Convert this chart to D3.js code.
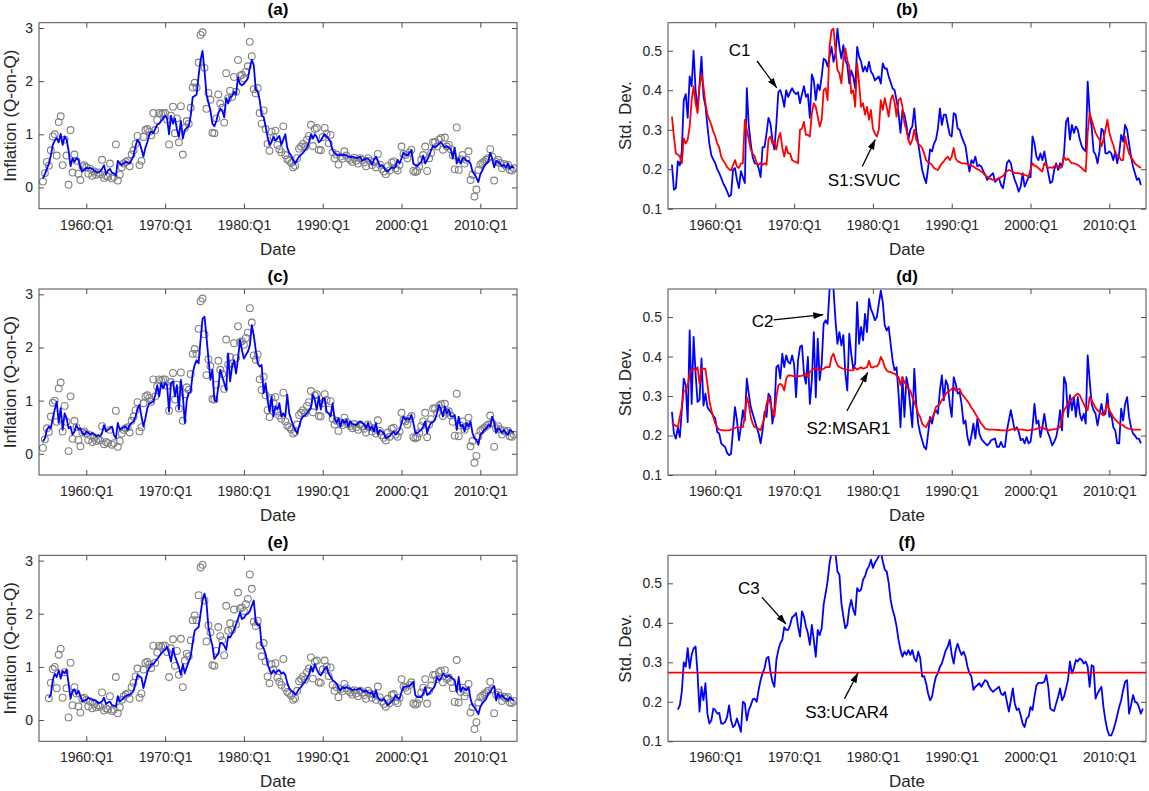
<!DOCTYPE html>
<html>
<head>
<meta charset="utf-8">
<script src="https://cdn.jsdelivr.net/npm/d3@7"></script>
<style>
  body { margin: 0; background: #fff; }
  text { font-family: "Liberation Sans", Arial, Helvetica, sans-serif; }
</style>
</head>
<body>
<svg id="chart" width="1149" height="791"></svg>
<script>
// quarterly data, first observation is 1954:Q3
const firstQuarter = 1954.5
const lagStart = 3 // UCAR4 panels start at 1955:Q2
const xDomain = [1954, 2014.65]
const tickYears = [1960, 1970, 1980, 1990, 2000, 2010]
const tickLabels = ['1960:Q1', '1970:Q1', '1980:Q1', '1990:Q1', '2000:Q1', '2010:Q1']
const inflTicks = [0, 1, 2, 3]
const sdTicks = [0.1, 0.2, 0.3, 0.4, 0.5]

// observed inflation (Q-on-Q)
const inflation = [
  0.11, 0.27, 0.48, 0.41, 0.70, 0.96, 1.00, 0.60, 1.23, 1.34,
  0.42, 0.90, 0.60, 0.05, 1.08, 0.28, 0.62, 0.50, 0.26, 0.14,
  0.40, 0.42, 0.38, 0.26, 0.35, 0.22, 0.30, 0.24, 0.28, 0.25,
  0.52, 0.18, 0.22, 0.20, 0.45, 0.17, 0.20, 0.81, 0.13, 0.24,
  0.38, 0.45, 0.48, 0.50, 0.40, 0.62, 0.70, 0.82, 0.97, 0.42,
  0.50, 0.95, 1.08, 1.10, 1.05, 0.98, 1.40, 1.08, 1.27, 1.40,
  1.38, 1.40, 1.40, 1.28, 0.81, 1.35, 1.52, 1.02, 1.30, 0.85,
  1.53, 0.62, 1.12, 1.25, 1.20, 1.50, 1.88, 1.97, 1.88, 2.35,
  2.87, 2.92, 2.25, 1.48, 1.78, 1.65, 1.03, 1.02, 1.30, 1.75,
  1.58, 1.50, 1.22, 2.15, 1.68, 1.82, 1.70, 2.08, 1.80, 2.40,
  2.10, 2.12, 2.05, 2.18, 2.28, 2.74, 2.47, 1.85, 1.77, 1.87,
  1.40, 1.20, 1.45, 1.10, 0.82, 0.69, 1.05, 0.95, 1.07, 0.80,
  0.72, 0.66, 1.15, 0.61, 0.53, 0.50, 0.46, 0.38, 0.41, 0.55,
  0.73, 0.77, 0.82, 0.76, 0.90, 0.97, 1.18, 0.78, 1.10, 1.12,
  0.71, 0.70, 0.95, 1.12, 1.01, 0.83, 0.99, 0.66, 0.55, 0.62,
  0.43, 0.58, 0.54, 0.68, 0.60, 0.55, 0.52, 0.48, 0.56, 0.50,
  0.45, 0.55, 0.52, 0.47, 0.40, 0.55, 0.50, 0.42, 0.48, 0.38,
  0.63, 0.43, 0.35, 0.30, 0.25, 0.40, 0.32, 0.47, 0.49, 0.36,
  0.32, 0.42, 0.77, 0.63, 0.61, 0.55, 0.66, 0.71, 0.31, 0.29,
  0.31, 0.39, 0.52, 0.61, 0.77, 0.31, 0.55, 0.65, 0.85, 0.85,
  0.77, 0.90, 0.93, 0.71, 0.94, 0.77, 0.80, 0.72, 0.60, 0.34,
  1.13, 0.33, 0.53, 0.61, 0.45, 0.52, 0.68, 0.14, 0.24, -0.17,
  -0.04, 0.33, 0.43, 0.46, 0.49, 0.52, 0.55, 0.72, 0.58, 0.13,
  0.48, 0.52, 0.46, 0.36, 0.44, 0.41, 0.43, 0.33, 0.32, 0.36
]

// trend estimates, panels (a), (c), (e)
const trendSVUC = [
  0.17, 0.25, 0.35, 0.45, 0.60, 0.80, 0.88, 0.93, 0.85, 1.01,
  0.80, 0.96, 0.90, 0.70, 0.40, 0.55, 0.48, 0.55, 0.52, 0.38,
  0.30, 0.33, 0.37, 0.36, 0.37, 0.35, 0.32, 0.29, 0.28, 0.30,
  0.35, 0.42, 0.25, 0.32, 0.35, 0.28, 0.26, 0.22, 0.50, 0.45,
  0.42, 0.46, 0.48, 0.47, 0.45, 0.52, 0.60, 0.78, 0.90, 0.85,
  0.72, 0.58, 0.75, 0.85, 1.00, 1.05, 1.02, 1.10, 1.18, 1.20,
  1.25, 1.30, 1.35, 1.30, 1.00, 1.35, 1.20, 1.30, 1.10, 0.95,
  1.25, 0.92, 1.08, 1.12, 1.15, 1.35, 1.70, 1.72, 1.75, 2.10,
  2.40, 2.57, 2.20, 1.75, 1.60, 1.45, 1.20, 1.15, 1.25, 1.40,
  1.48, 1.45, 1.32, 1.68, 1.58, 1.70, 1.72, 1.80, 1.75, 2.07,
  1.95, 1.92, 1.95, 2.00, 2.05, 2.25, 2.40, 2.30, 1.85, 1.80,
  1.65, 1.35, 1.33, 1.15, 0.95, 0.80, 0.85, 0.96, 0.88, 0.92,
  0.97, 0.80, 0.90, 1.00, 0.75, 0.65, 0.60, 0.52, 0.45, 0.52,
  0.58, 0.62, 0.65, 0.70, 0.75, 0.85, 1.00, 0.92, 1.00, 0.95,
  0.85, 0.88, 0.95, 1.00, 0.95, 0.92, 0.85, 0.70, 0.65, 0.62,
  0.60, 0.62, 0.60, 0.62, 0.60, 0.58, 0.57, 0.58, 0.57, 0.55,
  0.56, 0.58, 0.50, 0.52, 0.55, 0.54, 0.50, 0.43, 0.52, 0.58,
  0.50, 0.40, 0.42, 0.38, 0.32, 0.30, 0.34, 0.38, 0.36, 0.40,
  0.52, 0.45, 0.55, 0.65, 0.62, 0.60, 0.65, 0.70, 0.45, 0.42,
  0.40, 0.44, 0.48, 0.60, 0.45, 0.52, 0.60, 0.70, 0.78, 0.75,
  0.78, 0.82, 0.85, 0.80, 0.75, 0.78, 0.75, 0.72, 0.55, 0.75,
  0.45, 0.55, 0.45, 0.55, 0.55, 0.50, 0.50, 0.45, 0.30, 0.25,
  0.18, 0.10, 0.25, 0.32, 0.40, 0.45, 0.48, 0.65, 0.55, 0.38,
  0.50, 0.48, 0.45, 0.40, 0.42, 0.38, 0.45, 0.35, 0.40, 0.37
]

const trendMSAR = [
  0.23, 0.29, 0.45, 0.51, 0.48, 0.67, 0.83, 0.98, 0.58, 0.86,
  0.45, 0.76, 0.67, 0.48, 0.51, 0.36, 0.42, 0.54, 0.46, 0.48,
  0.39, 0.36, 0.42, 0.39, 0.36, 0.39, 0.37, 0.33, 0.35, 0.33,
  0.39, 0.54, 0.42, 0.45, 0.48, 0.51, 0.36, 0.29, 0.58, 0.45,
  0.48, 0.50, 0.51, 0.45, 0.54, 0.58, 0.61, 0.70, 0.85, 0.92,
  0.70, 0.51, 0.67, 0.86, 0.95, 0.96, 0.98, 1.10, 1.29, 1.08,
  1.33, 1.23, 1.33, 1.29, 0.79, 1.33, 1.36, 1.08, 1.29, 0.83,
  1.39, 1.11, 0.58, 1.01, 1.14, 1.17, 1.51, 1.67, 1.76, 1.70,
  2.14, 2.54, 2.58, 2.20, 1.79, 1.39, 1.58, 1.01, 0.98, 1.26,
  1.58, 1.45, 1.33, 1.20, 1.89, 1.36, 1.64, 1.76, 1.51, 1.79,
  2.14, 1.95, 1.79, 1.86, 1.92, 2.04, 2.42, 2.23, 1.95, 1.70,
  1.64, 1.67, 1.14, 1.33, 1.01, 0.79, 1.08, 0.70, 0.89, 0.83,
  0.95, 0.70, 0.76, 0.70, 1.11, 0.76, 0.64, 0.54, 0.45, 0.39,
  0.51, 0.64, 0.70, 0.72, 0.76, 0.82, 0.86, 1.11, 1.01, 0.83,
  1.08, 0.83, 1.04, 1.04, 0.79, 0.76, 0.70, 0.95, 0.67, 0.58,
  0.67, 0.51, 0.64, 0.58, 0.64, 0.51, 0.61, 0.56, 0.55, 0.54,
  0.58, 0.61, 0.58, 0.55, 0.48, 0.58, 0.45, 0.51, 0.42, 0.58,
  0.36, 0.45, 0.42, 0.39, 0.29, 0.31, 0.33, 0.38, 0.42, 0.36,
  0.40, 0.45, 0.58, 0.70, 0.64, 0.67, 0.64, 0.73, 0.58, 0.39,
  0.39, 0.42, 0.45, 0.51, 0.61, 0.39, 0.51, 0.58, 0.60, 0.64,
  0.76, 0.92, 0.83, 0.70, 0.89, 0.76, 0.83, 0.70, 0.70, 0.73,
  0.45, 0.70, 0.51, 0.54, 0.42, 0.58, 0.51, 0.61, 0.39, 0.29,
  0.26, 0.17, 0.36, 0.39, 0.45, 0.48, 0.54, 0.51, 0.70, 0.58,
  0.39, 0.48, 0.45, 0.39, 0.45, 0.39, 0.36, 0.45, 0.42, 0.40
]

// starts at 1955:Q2
const trendUCAR = [
  0.42, 0.48, 0.75, 0.87, 0.81, 0.94, 0.78, 0.92, 0.88, 0.95,
  0.70, 0.40, 0.55, 0.58, 0.48, 0.55, 0.45, 0.35, 0.37, 0.38,
  0.42, 0.40, 0.38, 0.38, 0.36, 0.32, 0.33, 0.35, 0.42, 0.30,
  0.33, 0.35, 0.28, 0.27, 0.25, 0.45, 0.35, 0.38, 0.42, 0.45,
  0.47, 0.48, 0.50, 0.55, 0.70, 0.85, 0.82, 0.80, 0.60, 0.75,
  0.90, 0.98, 1.05, 1.05, 1.10, 1.15, 1.20, 1.25, 1.30, 1.32,
  1.38, 1.25, 1.10, 1.35, 1.20, 1.10, 1.00, 0.85, 1.05, 0.88,
  1.00, 1.10, 1.20, 1.45, 1.68, 1.72, 1.75, 2.00, 2.25, 2.38,
  2.20, 1.75, 1.55, 1.40, 1.15, 1.20, 1.25, 1.45, 1.45, 1.40,
  1.32, 1.58, 1.55, 1.62, 1.70, 1.80, 1.90, 2.02, 1.90, 1.92,
  1.98, 2.00, 2.05, 2.15, 2.25, 1.85, 1.78, 1.80, 1.41, 1.35,
  1.25, 1.05, 0.95, 0.87, 0.94, 0.88, 0.92, 0.94, 0.87, 0.90,
  0.85, 0.70, 0.60, 0.55, 0.53, 0.48, 0.52, 0.59, 0.62, 0.68,
  0.72, 0.78, 0.85, 1.00, 0.91, 1.05, 0.95, 0.88, 0.84, 0.90,
  0.97, 1.00, 0.87, 0.82, 0.75, 0.72, 0.69, 0.60, 0.55, 0.62,
  0.60, 0.62, 0.60, 0.59, 0.56, 0.58, 0.57, 0.58, 0.59, 0.55,
  0.53, 0.56, 0.52, 0.50, 0.53, 0.43, 0.56, 0.42, 0.38, 0.37,
  0.40, 0.34, 0.28, 0.31, 0.35, 0.38, 0.47, 0.42, 0.40, 0.53,
  0.62, 0.63, 0.64, 0.64, 0.68, 0.72, 0.47, 0.43, 0.43, 0.43,
  0.50, 0.62, 0.47, 0.50, 0.55, 0.59, 0.65, 0.81, 0.75, 0.78,
  0.87, 0.84, 0.81, 0.84, 0.81, 0.78, 0.75, 0.53, 0.81, 0.53,
  0.62, 0.59, 0.56, 0.62, 0.40, 0.28, 0.24, 0.18, 0.11, 0.25,
  0.31, 0.36, 0.40, 0.50, 0.53, 0.60, 0.64, 0.37, 0.50, 0.43,
  0.47, 0.42, 0.40, 0.37, 0.43, 0.39, 0.38
]

// std. dev. of the shocks, panels (b), (d), (f)
const sdC1 = [
  0.212, 0.148, 0.152, 0.220, 0.210, 0.245, 0.375, 0.390, 0.330, 0.435,
  0.410, 0.500, 0.400, 0.350, 0.415, 0.485, 0.385, 0.360, 0.310, 0.265,
  0.235, 0.225, 0.215, 0.200, 0.190, 0.178, 0.165, 0.155, 0.144, 0.131,
  0.135, 0.198, 0.203, 0.173, 0.152, 0.195, 0.180, 0.165, 0.405, 0.310,
  0.265, 0.230, 0.215, 0.215, 0.203, 0.180, 0.256, 0.256, 0.290, 0.330,
  0.315, 0.275, 0.250, 0.315, 0.395, 0.400, 0.383, 0.358, 0.400, 0.383,
  0.395, 0.405, 0.395, 0.390, 0.395, 0.367, 0.390, 0.410, 0.383, 0.390,
  0.330, 0.440, 0.425, 0.375, 0.415, 0.400, 0.435, 0.480, 0.476, 0.460,
  0.485, 0.510, 0.472, 0.493, 0.556, 0.510, 0.480, 0.514, 0.476, 0.464,
  0.417, 0.450, 0.435, 0.405, 0.510, 0.485, 0.472, 0.447, 0.460, 0.447,
  0.472, 0.447, 0.440, 0.425, 0.430, 0.435, 0.417, 0.468, 0.455, 0.455,
  0.435, 0.420, 0.405, 0.400, 0.375, 0.342, 0.292, 0.350, 0.338, 0.312,
  0.275, 0.300, 0.308, 0.354, 0.296, 0.265, 0.232, 0.198, 0.180, 0.165,
  0.203, 0.250, 0.245, 0.265, 0.275, 0.303, 0.354, 0.312, 0.338, 0.338,
  0.312, 0.287, 0.283, 0.342, 0.338, 0.303, 0.300, 0.283, 0.270, 0.258,
  0.223, 0.194, 0.223, 0.215, 0.232, 0.207, 0.211, 0.207, 0.195, 0.186,
  0.173, 0.180, 0.185, 0.190, 0.168, 0.173, 0.177, 0.160, 0.152, 0.180,
  0.215, 0.223, 0.215, 0.190, 0.173, 0.160, 0.143, 0.156, 0.190, 0.156,
  0.168, 0.180, 0.180, 0.283, 0.265, 0.232, 0.223, 0.240, 0.223, 0.245,
  0.215, 0.190, 0.165, 0.168, 0.198, 0.215, 0.198, 0.215, 0.207, 0.240,
  0.320, 0.330, 0.275, 0.312, 0.292, 0.308, 0.300, 0.275, 0.258, 0.250,
  0.245, 0.422, 0.342, 0.308, 0.245, 0.237, 0.215, 0.245, 0.303, 0.296,
  0.240, 0.240, 0.245, 0.240, 0.223, 0.245, 0.215, 0.240, 0.287, 0.270,
  0.312, 0.300, 0.265, 0.232, 0.207, 0.190, 0.173, 0.177, 0.160
]

const sdS1 = [
  0.333, 0.283, 0.240, 0.237, 0.232, 0.215, 0.278, 0.265, 0.275, 0.308,
  0.375, 0.410, 0.367, 0.342, 0.410, 0.440, 0.410, 0.367, 0.338, 0.325,
  0.312, 0.295, 0.283, 0.265, 0.255, 0.232, 0.222, 0.215, 0.205, 0.200,
  0.197, 0.210, 0.223, 0.207, 0.203, 0.215, 0.215, 0.325, 0.300, 0.275,
  0.250, 0.240, 0.232, 0.215, 0.211, 0.215, 0.211, 0.215, 0.211, 0.275,
  0.283, 0.265, 0.270, 0.250, 0.278, 0.292, 0.254, 0.232, 0.258, 0.240,
  0.240, 0.223, 0.220, 0.218, 0.215, 0.300, 0.303, 0.320, 0.287, 0.287,
  0.283, 0.342, 0.367, 0.358, 0.333, 0.308, 0.325, 0.400, 0.405, 0.375,
  0.510, 0.552, 0.556, 0.502, 0.451, 0.443, 0.417, 0.476, 0.506, 0.476,
  0.460, 0.392, 0.400, 0.358, 0.468, 0.417, 0.358, 0.367, 0.338, 0.358,
  0.325, 0.350, 0.303, 0.290, 0.283, 0.300, 0.375, 0.350, 0.380, 0.358,
  0.333, 0.375, 0.388, 0.370, 0.333, 0.375, 0.380, 0.358, 0.316, 0.300,
  0.275, 0.262, 0.275, 0.300, 0.275, 0.265, 0.260, 0.254, 0.240, 0.223,
  0.218, 0.215, 0.211, 0.203, 0.200, 0.198, 0.207, 0.215, 0.220, 0.227,
  0.232, 0.223, 0.232, 0.254, 0.227, 0.220, 0.218, 0.215, 0.215, 0.215,
  0.213, 0.211, 0.209, 0.207, 0.203, 0.200, 0.198, 0.194, 0.190, 0.184,
  0.181, 0.177, 0.175, 0.173, 0.173, 0.175, 0.177, 0.180, 0.183, 0.190,
  0.195, 0.198, 0.196, 0.194, 0.190, 0.190, 0.190, 0.188, 0.186, 0.186,
  0.184, 0.181, 0.200, 0.215, 0.209, 0.207, 0.203, 0.198, 0.194, 0.215,
  0.210, 0.203, 0.205, 0.203, 0.207, 0.211, 0.205, 0.203, 0.207, 0.232,
  0.223, 0.227, 0.220, 0.215, 0.215, 0.213, 0.211, 0.207, 0.203, 0.198,
  0.194, 0.292, 0.342, 0.325, 0.308, 0.292, 0.283, 0.275, 0.258, 0.275,
  0.300, 0.325, 0.292, 0.275, 0.262, 0.240, 0.235, 0.232, 0.223, 0.223,
  0.283, 0.258, 0.240, 0.230, 0.223, 0.215, 0.210, 0.207, 0.203
]

const sdC2 = [
  0.260, 0.205, 0.192, 0.220, 0.196, 0.264, 0.344, 0.327, 0.234, 0.466,
  0.280, 0.450, 0.357, 0.285, 0.290, 0.395, 0.276, 0.306, 0.272, 0.264,
  0.258, 0.250, 0.243, 0.209, 0.205, 0.180, 0.175, 0.171, 0.156, 0.150,
  0.154, 0.213, 0.272, 0.238, 0.188, 0.221, 0.264, 0.238, 0.344, 0.306,
  0.272, 0.255, 0.238, 0.221, 0.205, 0.180, 0.213, 0.260, 0.247, 0.306,
  0.297, 0.230, 0.264, 0.373, 0.378, 0.344, 0.407, 0.373, 0.403, 0.386,
  0.382, 0.403, 0.380, 0.297, 0.390, 0.424, 0.428, 0.357, 0.331, 0.399,
  0.280, 0.340, 0.462, 0.297, 0.445, 0.340, 0.382, 0.483, 0.492, 0.483,
  0.570, 0.590, 0.570, 0.492, 0.432, 0.462, 0.428, 0.454, 0.357, 0.314,
  0.458, 0.407, 0.369, 0.382, 0.538, 0.432, 0.475, 0.441, 0.508, 0.462,
  0.546, 0.520, 0.508, 0.492, 0.500, 0.534, 0.567, 0.538, 0.479, 0.466,
  0.475, 0.432, 0.390, 0.365, 0.373, 0.306, 0.221, 0.348, 0.247, 0.348,
  0.323, 0.272, 0.221, 0.369, 0.280, 0.230, 0.205, 0.188, 0.171, 0.165,
  0.205, 0.247, 0.230, 0.255, 0.264, 0.255, 0.314, 0.352, 0.289, 0.340,
  0.327, 0.280, 0.247, 0.348, 0.331, 0.306, 0.310, 0.280, 0.230, 0.238,
  0.196, 0.175, 0.200, 0.230, 0.192, 0.243, 0.205, 0.192, 0.185, 0.180,
  0.175, 0.180, 0.188, 0.190, 0.192, 0.171, 0.171, 0.184, 0.171, 0.171,
  0.213, 0.238, 0.264, 0.238, 0.213, 0.221, 0.209, 0.188, 0.192, 0.180,
  0.196, 0.180, 0.184, 0.221, 0.280, 0.230, 0.238, 0.196, 0.221, 0.255,
  0.221, 0.205, 0.192, 0.175, 0.184, 0.196, 0.221, 0.264, 0.213, 0.348,
  0.331, 0.247, 0.302, 0.264, 0.297, 0.247, 0.297, 0.255, 0.238, 0.255,
  0.230, 0.403, 0.340, 0.280, 0.264, 0.255, 0.226, 0.255, 0.280, 0.251,
  0.255, 0.306, 0.247, 0.255, 0.221, 0.213, 0.180, 0.180, 0.268, 0.238,
  0.280, 0.297, 0.247, 0.221, 0.205, 0.200, 0.192, 0.192, 0.180
]

const sdS2 = [
  0.234, 0.228, 0.224, 0.221, 0.247, 0.272, 0.314, 0.314, 0.327, 0.357,
  0.365, 0.369, 0.365, 0.373, 0.331, 0.369, 0.369, 0.369, 0.331, 0.289,
  0.264, 0.247, 0.230, 0.221, 0.215, 0.214, 0.213, 0.213, 0.213, 0.213,
  0.215, 0.217, 0.219, 0.221, 0.220, 0.221, 0.221, 0.247, 0.297, 0.280,
  0.247, 0.230, 0.221, 0.219, 0.217, 0.213, 0.230, 0.247, 0.280, 0.297,
  0.280, 0.264, 0.247, 0.297, 0.327, 0.331, 0.327, 0.314, 0.344, 0.352,
  0.352, 0.351, 0.350, 0.350, 0.350, 0.350, 0.352, 0.352, 0.357, 0.348,
  0.361, 0.365, 0.369, 0.369, 0.369, 0.365, 0.367, 0.369, 0.373, 0.373,
  0.373, 0.399, 0.407, 0.390, 0.378, 0.373, 0.371, 0.369, 0.367, 0.367,
  0.365, 0.365, 0.365, 0.372, 0.367, 0.370, 0.373, 0.369, 0.371, 0.373,
  0.389, 0.373, 0.372, 0.375, 0.375, 0.382, 0.399, 0.390, 0.373, 0.365,
  0.361, 0.361, 0.358, 0.357, 0.352, 0.348, 0.327, 0.348, 0.335, 0.327,
  0.318, 0.314, 0.297, 0.285, 0.272, 0.255, 0.247, 0.230, 0.224, 0.221,
  0.232, 0.243, 0.243, 0.255, 0.272, 0.276, 0.280, 0.290, 0.295, 0.306,
  0.310, 0.314, 0.318, 0.323, 0.314, 0.316, 0.318, 0.306, 0.300, 0.293,
  0.287, 0.280, 0.270, 0.264, 0.255, 0.247, 0.238, 0.230, 0.224, 0.217,
  0.216, 0.215, 0.215, 0.215, 0.215, 0.214, 0.214, 0.213, 0.213, 0.213,
  0.213, 0.213, 0.215, 0.216, 0.217, 0.216, 0.215, 0.215, 0.215, 0.214,
  0.213, 0.213, 0.214, 0.215, 0.215, 0.217, 0.219, 0.220, 0.221, 0.217,
  0.215, 0.213, 0.214, 0.215, 0.216, 0.217, 0.219, 0.221, 0.245, 0.264,
  0.272, 0.280, 0.288, 0.293, 0.297, 0.302, 0.306, 0.302, 0.290, 0.280,
  0.270, 0.264, 0.297, 0.290, 0.280, 0.270, 0.264, 0.260, 0.255, 0.251,
  0.265, 0.280, 0.264, 0.255, 0.247, 0.240, 0.235, 0.230, 0.227, 0.226,
  0.221, 0.219, 0.217, 0.216, 0.215, 0.215, 0.215, 0.215, 0.215
]

// starts at 1955:Q2
const sdC3 = [
  0.180, 0.191, 0.225, 0.300, 0.289, 0.336, 0.285, 0.319, 0.335, 0.340,
  0.272, 0.175, 0.238, 0.204, 0.247, 0.170, 0.145, 0.153, 0.183, 0.179,
  0.170, 0.172, 0.145, 0.145, 0.149, 0.162, 0.191, 0.153, 0.136, 0.141,
  0.158, 0.141, 0.124, 0.200, 0.196, 0.153, 0.179, 0.191, 0.206, 0.208,
  0.200, 0.230, 0.255, 0.272, 0.285, 0.310, 0.314, 0.276, 0.251, 0.238,
  0.306, 0.331, 0.348, 0.357, 0.389, 0.382, 0.382, 0.395, 0.414, 0.418,
  0.425, 0.391, 0.365, 0.429, 0.416, 0.391, 0.374, 0.344, 0.395, 0.357,
  0.314, 0.382, 0.369, 0.386, 0.446, 0.475, 0.505, 0.552, 0.577, 0.600,
  0.577, 0.530, 0.522, 0.450, 0.416, 0.386, 0.395, 0.437, 0.458, 0.433,
  0.420, 0.488, 0.480, 0.484, 0.509, 0.518, 0.535, 0.543, 0.560, 0.539,
  0.552, 0.560, 0.569, 0.581, 0.556, 0.535, 0.530, 0.501, 0.458, 0.433,
  0.416, 0.391, 0.357, 0.331, 0.314, 0.327, 0.319, 0.331, 0.319, 0.331,
  0.310, 0.302, 0.327, 0.310, 0.264, 0.265, 0.247, 0.221, 0.204, 0.213,
  0.242, 0.264, 0.272, 0.289, 0.297, 0.314, 0.331, 0.340, 0.357, 0.319,
  0.297, 0.331, 0.347, 0.331, 0.319, 0.327, 0.314, 0.289, 0.272, 0.264,
  0.230, 0.238, 0.242, 0.247, 0.238, 0.247, 0.255, 0.251, 0.238, 0.230,
  0.225, 0.230, 0.234, 0.238, 0.221, 0.217, 0.225, 0.200, 0.175, 0.204,
  0.234, 0.196, 0.179, 0.183, 0.166, 0.145, 0.136, 0.158, 0.162, 0.187,
  0.179, 0.213, 0.242, 0.248, 0.248, 0.248, 0.251, 0.268, 0.238, 0.183,
  0.179, 0.177, 0.196, 0.213, 0.234, 0.204, 0.213, 0.234, 0.255, 0.302,
  0.272, 0.285, 0.306, 0.302, 0.310, 0.306, 0.297, 0.302, 0.289, 0.238,
  0.293, 0.289, 0.208, 0.221, 0.230, 0.238, 0.187, 0.153, 0.128, 0.115,
  0.115, 0.128, 0.145, 0.166, 0.187, 0.204, 0.230, 0.251, 0.255, 0.170,
  0.191, 0.217, 0.200, 0.198, 0.187, 0.170, 0.183
]

const sdS3 = 0.274 // constant volatility of UCAR4

// annotations in data units: label centre, arrow tail, arrow head
const notesB = [
  { text: 'C1', at: [1963.1, 0.502], from: [1965.3, 0.474], to: [1967.8, 0.406] },
  { text: 'S1:SVUC', at: [1978.9, 0.174], from: [1978.65, 0.207], to: [1980.3, 0.275] }
]
const notesD = [
  { text: 'C2', at: [1966.0, 0.491], from: [1967.4, 0.493], to: [1973.7, 0.506] },
  { text: 'S2:MSAR1', at: [1976.9, 0.220], from: [1976.7, 0.262], to: [1979.35, 0.36] }
]
const notesF = [
  { text: 'C3', at: [1964.25, 0.488], from: [1965.9, 0.465], to: [1968.96, 0.397] },
  { text: 'S3:UCAR4', at: [1976.7, 0.174], from: [1976.4, 0.208], to: [1978.1, 0.273] }
]

const blue = '#0000ff'
const red = '#ff0000'
const W = 478
const H = 186
const colX = [39, 668]
const rowY = [22.7, 289, 555.3]

const svg = d3.select('#chart')

svg.append('defs').append('marker')
  .attr('id', 'arrow')
  .attr('viewBox', '0 0 10 7')
  .attr('markerUnits', 'userSpaceOnUse')
  .attr('markerWidth', 10)
  .attr('markerHeight', 7)
  .attr('refX', 10)
  .attr('refY', 3.5)
  .attr('orient', 'auto')
  .append('path')
  .attr('d', 'M0,0 L10,3.5 L0,7 Z')
  .attr('fill', '#000')

const x = d3.scaleLinear().domain(xDomain).range([0, W])
const yInfl = d3.scaleLinear().domain([-0.4, 3.1]).range([H, 0])
const ySd = d3.scaleLinear().domain([0.1, 0.571]).range([H, 0])

const toSeries = (values, offset) => values.map((v, i) => ({ t: firstQuarter + (i + offset) / 4, v }))

/**
 * Builds one panel: clipped plot area, box with inward ticks, titles.
 */
function makePanel (col, row, name, y, yTicks, yFmt, yTitle, showXTicks) {
  const g = svg.append('g').attr('transform', `translate(${colX[col]},${rowY[row]})`)
  const clipId = `clip-${name}`
  g.append('clipPath').attr('id', clipId)
    .append('rect').attr('width', W).attr('height', H)

  // data goes underneath the frame
  const plot = g.append('g').attr('clip-path', `url(#${clipId})`)

  const tick = 5
  const styleAxis = sel => {
    sel.select('.domain').remove()
    sel.selectAll('line').attr('stroke', '#4d4d4d')
    sel.selectAll('text').attr('fill', '#262626').style('font-size', '14px')
  }
  g.append('g').attr('transform', `translate(0,${H})`)
    .call(d3.axisBottom(x).tickValues(tickYears).tickFormat((d, i) => tickLabels[i])
      .tickSizeInner(showXTicks ? -tick : 0).tickSizeOuter(0).tickPadding(11))
    .call(styleAxis)
  g.append('g')
    .call(d3.axisTop(x).tickValues(tickYears).tickFormat('')
      .tickSizeInner(showXTicks ? -tick : 0).tickSizeOuter(0))
    .call(styleAxis)
  g.append('g')
    .call(d3.axisLeft(y).tickValues(yTicks).tickFormat(yFmt)
      .tickSizeInner(-tick).tickSizeOuter(0).tickPadding(6))
    .call(styleAxis)
  g.append('g').attr('transform', `translate(${W},0)`)
    .call(d3.axisRight(y).tickValues(yTicks).tickFormat('')
      .tickSizeInner(-tick).tickSizeOuter(0))
    .call(styleAxis)

  g.append('rect')
    .attr('width', W).attr('height', H)
    .attr('fill', 'none').attr('stroke', '#4d4d4d').attr('stroke-width', 1)

  g.append('text')
    .attr('x', W / 2).attr('y', -7.5)
    .attr('text-anchor', 'middle')
    .style('font-size', '17px').style('font-weight', 'bold')
    .attr('fill', '#000')
    .text(`(${name})`)

  g.append('text')
    .attr('x', W / 2).attr('y', H + 46)
    .attr('text-anchor', 'middle')
    .style('font-size', '17px')
    .attr('fill', '#262626')
    .text('Date')

  g.append('text')
    .attr('transform', `translate(${col === 0 ? -23 : -37},${H / 2}) rotate(-90)`)
    .attr('text-anchor', 'middle')
    .style('font-size', '17px')
    .attr('fill', '#262626')
    .text(yTitle)

  return { g, plot }
}

function drawLine (plot, y, data, color) {
  plot.append('path')
    .datum(data)
    .attr('fill', 'none')
    .attr('stroke', color)
    .attr('stroke-width', 1.8)
    .attr('stroke-linejoin', 'round')
    .attr('d', d3.line().x(d => x(d.t)).y(d => y(d.v)))
}

function drawCircles (plot, y, data) {
  plot.selectAll('.obs')
    .data(data)
    .enter()
    .append('circle')
    .attr('class', 'obs')
    .attr('cx', d => x(d.t))
    .attr('cy', d => y(d.v))
    .attr('r', 3.4)
    .attr('fill', 'none')
    .attr('stroke', '#808080')
    .attr('stroke-width', 1.1)
}

function drawNotes (g, y, notes) {
  notes.forEach(n => {
    g.append('line')
      .attr('x1', x(n.from[0])).attr('y1', y(n.from[1]))
      .attr('x2', x(n.to[0])).attr('y2', y(n.to[1]))
      .attr('stroke', '#000').attr('stroke-width', 1.3)
      .attr('marker-end', 'url(#arrow)')
    g.append('text')
      .attr('x', x(n.at[0])).attr('y', y(n.at[1]))
      .attr('dy', '0.36em')
      .attr('text-anchor', 'middle')
      .style('font-size', '17px')
      .attr('fill', '#000')
      .text(n.text)
  })
}

const fmtInfl = d3.format('d')
const fmtSd = d3.format('.1f')
const obsAll = toSeries(inflation, 0)

// left column: inflation and trend
const leftPanels = [
  { row: 0, name: 'a', obs: obsAll, trend: toSeries(trendSVUC, 0) },
  { row: 1, name: 'c', obs: obsAll, trend: toSeries(trendMSAR, 0) },
  { row: 2, name: 'e', obs: obsAll.slice(lagStart), trend: toSeries(trendUCAR, lagStart) }
]
leftPanels.forEach(p => {
  const { plot } = makePanel(0, p.row, p.name, yInfl, inflTicks, fmtInfl, 'Inflation (Q-on-Q)', true)
  drawCircles(plot, yInfl, p.obs)
  drawLine(plot, yInfl, p.trend, blue)
})

// right column: volatility estimates
const rightPanels = [
  { row: 0, name: 'b', lines: [toSeries(sdC1, 0), toSeries(sdS1, 0)], notes: notesB, ticks: true },
  { row: 1, name: 'd', lines: [toSeries(sdC2, 0), toSeries(sdS2, 0)], notes: notesD, ticks: true },
  { row: 2, name: 'f', lines: [toSeries(sdC3, lagStart), xDomain.map(t => ({ t, v: sdS3 }))], notes: notesF, ticks: false }
]
rightPanels.forEach(p => {
  const { g, plot } = makePanel(1, p.row, p.name, ySd, sdTicks, fmtSd, 'Std. Dev.', p.ticks)
  drawLine(plot, ySd, p.lines[0], blue)
  drawLine(plot, ySd, p.lines[1], red)
  drawNotes(g, ySd, p.notes)
})
</script>
</body>
</html>
